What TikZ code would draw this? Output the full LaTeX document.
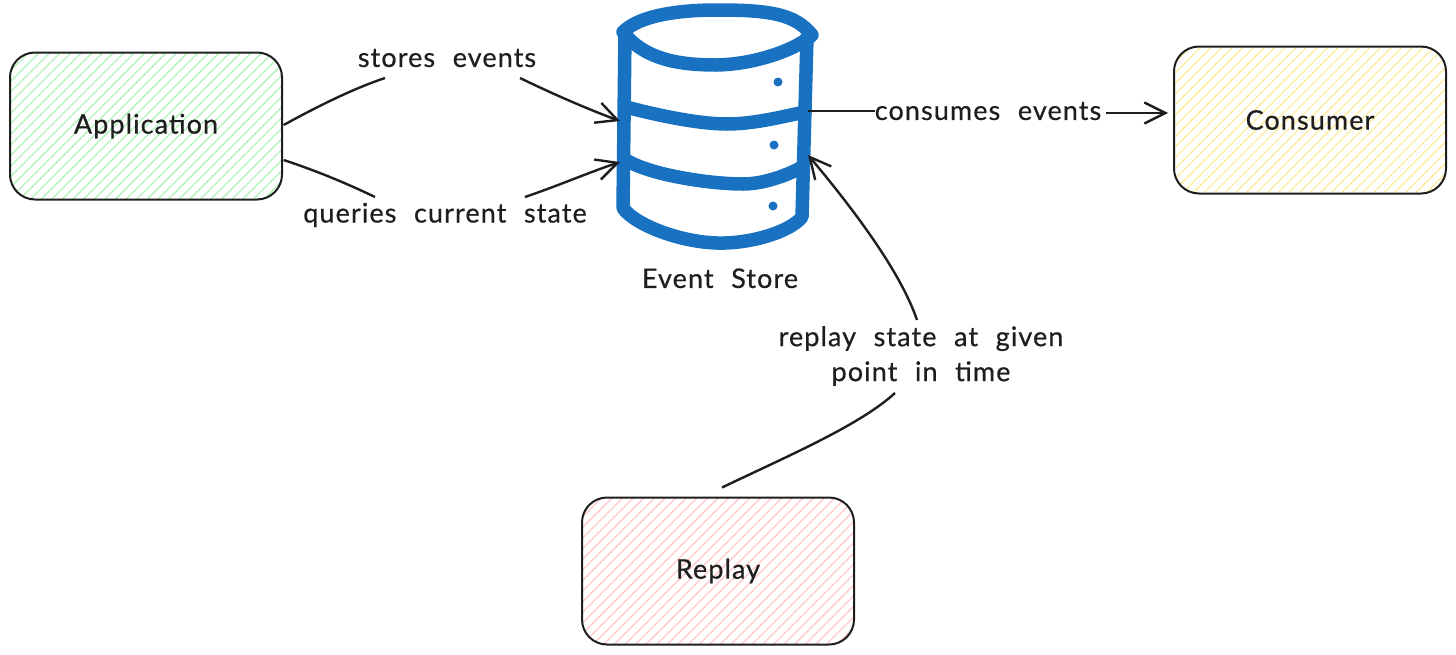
\documentclass[tikz,border=0pt]{standalone}
\usepackage{fontspec}
\setmainfont{Lato}[LetterSpace=4,WordSpace=2.2,FakeBold=0.5]
\usetikzlibrary{arrows.meta,positioning,calc,patterns.meta}

\tikzset{
  sketchbox/.style={draw=inkblack, line width=2pt, rectangle, rounded corners=25pt, minimum width=272pt, minimum height=147pt, font=\fontsize{27}{30}\selectfont, text=inkblack},
  hatchgreen/.style={pattern={Lines[angle=45,distance=7.5pt,line width=1.3pt]}, pattern color=hatchg},
  hatchyellow/.style={pattern={Lines[angle=45,distance=7.5pt,line width=1.3pt]}, pattern color=hatchy},
  hatchred/.style={pattern={Lines[angle=45,distance=7.5pt,line width=1.3pt]}, pattern color=hatchr},
  edgelabel/.style={font=\fontsize{27}{35}\selectfont, text=inkblack, inner sep=0pt, align=center},
  link/.style={draw=inkblack, line width=2.4pt},
  arrowlink/.style={link, -{Straight Barb[length=21pt,width=21pt,line width=2.4pt]}},
  drum/.style={draw=drumblue, line width=13.5pt, line cap=round, line join=round},
  drumdot/.style={fill=drumblue, circle, inner sep=0pt, minimum size=9pt}
}
\definecolor{inkblack}{HTML}{1E1E1E}
\definecolor{drumblue}{HTML}{1971C2}
\definecolor{hatchg}{HTML}{B2F2BB}
\definecolor{hatchy}{HTML}{FFEC99}
\definecolor{hatchr}{HTML}{FFC9C9}

\begin{document}
\begin{tikzpicture}[x=1pt, y=-1pt]
  \useasboundingbox (0,0) rectangle (1456,654);

  \node[sketchbox, hatchgreen] (app) at (146,126) {Application};
  \node[sketchbox, hatchyellow] (consumer) at (1310,120) {Consumer};
  \node[sketchbox, hatchred] (replay) at (718,571) {Replay};

  % Event store drum
  \node[minimum width=190pt, minimum height=240pt, inner sep=0pt] (store) at (720,128) {};
  \draw[drum] (625,32) -- (623,208) .. controls (635,225) and (680,242) .. (717,243) .. controls (750,244) and (790,232) .. (802,217) -- (807,37);
  \draw[drum] (623,32) .. controls (640,15) and (680,10) .. (717,10) .. controls (770,10) and (795,14) .. (812,35) .. controls (800,47) and (760,64) .. (717,65) .. controls (680,65) and (645,60) .. (623,32);
  \draw[drum] (626,107) .. controls (660,116) and (700,124) .. (727,124) .. controls (755,124) and (785,116) .. (805,112);
  \draw[drum] (626,160) .. controls (650,175) and (710,184) .. (743,184) .. controls (765,184) and (790,174) .. (802,167);
  \node[drumdot] (dot1) at (778,82) {};
  \node[drumdot] (dot2) at (774,145) {};
  \node[drumdot] (dot3) at (773,206) {};
  \node[edgelabel, below=20pt of store] (storelabel) {Event Store};

  % Labels on the connectors
  \node[edgelabel] (stores) at (447,58) {stores events};
  \node[edgelabel] (queries) at (445,215) {queries current state};
  \node[edgelabel] (consumes) at (988,111) {consumes events};
  \node[edgelabel] (replaying) at (921,356) {replay state at given\\point in time};

  \coordinate (appA) at ($(app.east)+(1,-1)$);
  \coordinate (appB) at ($(app.east)+(1,34)$);
  \coordinate (storeA) at (620,121);
  \coordinate (storeB) at (620,162);
  \coordinate (storeC) at (808,111);
  \coordinate (storeD) at (808,155);
  \coordinate (storesA) at (385,78);
  \coordinate (storesB) at (520,78);
  \coordinate (queriesA) at (375,197);
  \coordinate (queriesB) at (525,197);
  \coordinate (replayA) at (895,393);
  \coordinate (replayB) at (917,320);
  \coordinate (consumerA) at (1168,113);
  \coordinate (consumesB) at (1106,113);

  \draw[link] (appA) .. controls (320,105) and (355,88) .. (storesA);
  \draw[arrowlink] (storesB) .. controls (555,95) and (590,110) .. (storeA);
  \draw[link] (appB) .. controls (320,172) and (350,185) .. (queriesA);
  \draw[arrowlink] (queriesB) .. controls (560,185) and (590,172) .. (storeB);
  \draw[link] (storeC) -- (consumes.west);
  \draw[arrowlink] (consumesB) -- (consumerA);
  \draw[link] ($(replay.north)+(4,-9)$) .. controls (790,455) and (860,425) .. (replayA);
  \draw[arrowlink] (replayB) .. controls (900,270) and (850,205) .. (storeD);
\end{tikzpicture}
\end{document}
